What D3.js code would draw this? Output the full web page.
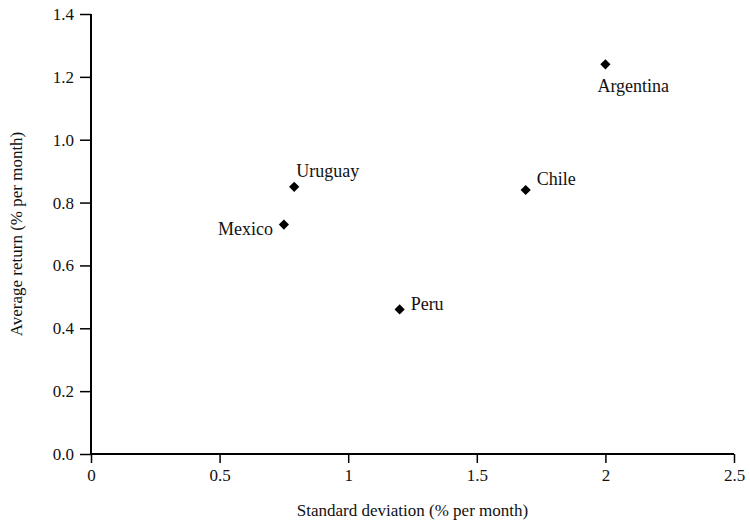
<!DOCTYPE html>
<html>
<head>
<meta charset="utf-8">
<script src="https://cdn.jsdelivr.net/npm/d3@7"></script>
</head>
<body style="margin:0">
<svg id="chart" width="750" height="527" font-family="Liberation Serif" style="font-family:'Liberation Serif'"></svg>
<script>
// data
var countries = ["Argentina", "Chile", "Uruguay", "Mexico", "Peru"];
var stdDev = [2.0, 1.69, 0.79, 0.75, 1.2];
var avgReturn = [1.24, 0.84, 0.85, 0.73, 0.46];
var xTicks = [0, 0.5, 1, 1.5, 2, 2.5];
var yTicks = [0, 0.2, 0.4, 0.6, 0.8, 1.0, 1.2, 1.4];

var width = 750, height = 527;
var margin = {top: 14, right: 16, bottom: 73, left: 91};

var svg = d3.select("#chart");

var x = d3.scaleLinear().domain([0, 2.5]).range([margin.left, width - margin.right]);
var y = d3.scaleLinear().domain([0, 1.4]).range([height - margin.bottom, margin.top]);

var xAxis = d3.axisBottom(x).tickValues(xTicks).tickSize(9).tickPadding(6)
    .tickFormat(function(d) { return d === 0 ? "0" : d3.format("")(d); });
var yAxis = d3.axisLeft(y).tickValues(yTicks).tickSize(11).tickPadding(6)
    .tickFormat(d3.format(".1f"));

var gx = svg.append("g")
    .attr("transform", "translate(0," + y(0) + ")")
    .call(xAxis);
var gy = svg.append("g")
    .attr("transform", "translate(" + x(0) + ",0)")
    .call(yAxis);

[gx, gy].forEach(function(g) {
    g.attr("font-size", 17).attr("font-family", "Liberation Serif");
    g.select(".domain").attr("stroke", "#000").attr("stroke-width", 2)
        .attr("d", g === gx
            ? "M" + x(0) + ",0H" + x(2.5)
            : "M0," + y(0) + "V" + y(1.4));
    g.selectAll(".tick line").attr("stroke", "#000").attr("stroke-width", 1.5);
});

svg.append("text")
    .attr("x", x(1.25))
    .attr("y", height - 11)
    .attr("text-anchor", "middle")
    .attr("font-size", 17)
    .text("Standard deviation (% per month)");

svg.append("text")
    .attr("transform", "translate(22," + y(0.7) + ")rotate(-90)")
    .attr("text-anchor", "middle")
    .attr("font-size", 17)
    .text("Average return (% per month)");

var pts = countries.map(function(c, i) {
    return {name: c, sd: stdDev[i], ret: avgReturn[i]};
});

// square turned 45 degrees gives the flat diamond marker
var marker = d3.symbol().type(d3.symbolSquare).size(52);

svg.selectAll("path.pt")
    .data(pts)
    .enter()
    .append("path")
    .attr("class", "pt")
    .attr("d", marker)
    .attr("fill", "#000")
    .attr("transform", function(d) {
        return "translate(" + x(d.sd) + "," + y(d.ret) + ")rotate(45)";
    });

// label placement relative to each point
var place = {
    "Argentina": {dx: -8, dy: 28, anchor: "start"},
    "Chile": {dx: 11, dy: -5, anchor: "start"},
    "Uruguay": {dx: 2, dy: -10, anchor: "start"},
    "Mexico": {dx: -11, dy: 10, anchor: "end"},
    "Peru": {dx: 11, dy: 1, anchor: "start"}
};

svg.selectAll("text.lbl")
    .data(pts)
    .enter()
    .append("text")
    .attr("class", "lbl")
    .attr("font-size", 18)
    .attr("text-anchor", function(d) { return place[d.name].anchor; })
    .attr("x", function(d) { return x(d.sd) + place[d.name].dx; })
    .attr("y", function(d) { return y(d.ret) + place[d.name].dy; })
    .text(function(d) { return d.name; });

svg.selectAll("text")
    .attr("font-family", "Liberation Serif")
    .attr("fill", "#111");
</script>
</body>
</html>
